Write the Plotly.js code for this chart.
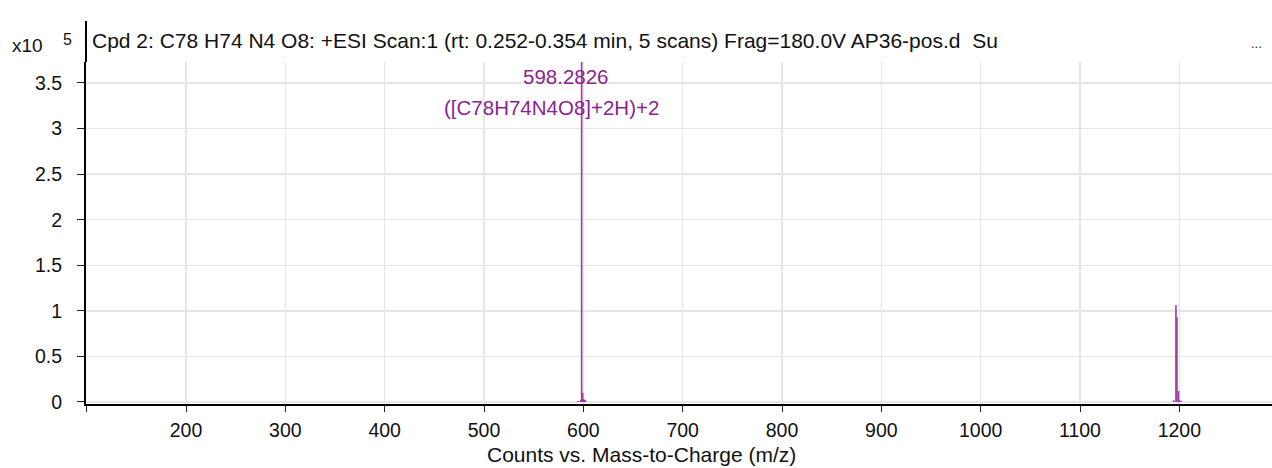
<!DOCTYPE html>
<html>
<head>
<meta charset="utf-8">
<script src="https://cdn.plot.ly/plotly-3.0.1.min.js"></script>
<style>html,body{margin:0;padding:0;background:#fff;}#chart{width:1272px;height:468px;}</style>
</head>
<body>
<div id="chart"></div>
<script>
// m/z values and intensities (x10^5 counts)
const mz = [594.8, 597.3, 598.2826, 599.3, 600.3, 601.3, 602.0, 1194.3, 1196.6, 1197.6, 1199.2, 1200.5, 1202.0];
const counts = [0.01, 0.02, 3.80, 0.10, 0.03, 0.025, 0.02, 0.02, 1.06, 0.93, 0.12, 0.02, 0.01];
const xTickVals = [100, 200, 300, 400, 500, 600, 700, 800, 900, 1000, 1100, 1200];
const xTickText = ["", "200", "300", "400", "500", "600", "700", "800", "900", "1000", "1100", "1200"];
const yTickVals = [0, 0.5, 1, 1.5, 2, 2.5, 3, 3.5];
const yTickText = ["0", "0.5", "1", "1.5", "2", "2.5", "3", "3.5"];
const peakLabelMz = 598.2826;
const peakLabel1 = "598.2826";
const peakLabel2 = "([C78H74N4O8]+2H)+2";
const headerText = "Cpd 2: C78 H74 N4 O8: +ESI Scan:1 (rt: 0.252-0.354 min, 5 scans) Frag=180.0V AP36-pos.d  Su";
const xTitle = "Counts vs. Mass-to-Charge (m/z)";

const font = "Liberation Sans, Arial, sans-serif";
const purple = "#8e1f8e";

// stick spectrum: build vertical segments from the data arrays
const segX = [], segY = [];
mz.forEach((m, i) => { segX.push(m, m, null); segY.push(0, counts[i], null); });

const trace = {
  type: "scatter",
  mode: "lines",
  x: segX,
  y: segY,
  line: {color: "#a536a5", width: 1.6},
  hoverinfo: "skip",
  cliponaxis: true
};

const layout = {
  width: 1272, height: 468,
  margin: {l: 86, r: 0, t: 62, b: 64, pad: 0},
  paper_bgcolor: "#ffffff",
  plot_bgcolor: "#ffffff",
  showlegend: false,
  font: {family: font, size: 19, color: "#111"},
  xaxis: {
    range: [99.3, 1293.3],
    tickmode: "array", tickvals: xTickVals, ticktext: xTickText,
    ticks: "outside", ticklen: 6, tickcolor: "#222", tickwidth: 1,
    ticklabelstandoff: 2,
    showgrid: true, gridcolor: "#e6e6e6", gridwidth: 1.5,
    showline: true, linecolor: "#000", linewidth: 2,
    zeroline: false,
    tickfont: {family: font, size: 19.5, color: "#111"}
  },
  yaxis: {
    range: [-0.022, 3.73],
    tickmode: "array", tickvals: yTickVals, ticktext: yTickText,
    ticks: "outside", ticklen: 7, tickcolor: "#222", tickwidth: 1,
    ticklabelstandoff: 11,
    showgrid: true, gridcolor: "#e6e6e6", gridwidth: 1.5,
    showline: true, linecolor: "#000", linewidth: 2,
    zeroline: false,
    tickfont: {family: font, size: 19.5, color: "#111"}
  },
  shapes: [
    {type: "line", xref: "paper", yref: "paper", x0: 0, x1: 0, y0: 1, y1: 1.12, line: {color: "#000", width: 2}}
  ],
  annotations: [
    {xref: "x", yref: "y", x: peakLabelMz, y: 3.5, text: peakLabel1, showarrow: false,
     xanchor: "center", yanchor: "middle", xshift: -16, yshift: 6,
     font: {family: font, size: 20.5, color: purple}},
    {xref: "x", yref: "y", x: peakLabelMz, y: 3.16, text: peakLabel2, showarrow: false,
     xanchor: "center", yanchor: "middle", xshift: -30, yshift: 6,
     font: {family: font, size: 20.5, color: purple}},
    {xref: "paper", yref: "paper", x: 0.0035, y: 1.064, text: headerText, showarrow: false,
     xanchor: "left", yanchor: "middle", font: {family: font, size: 21, color: "#111"}},
    {xref: "paper", yref: "paper", x: 0.987, y: 1.055, text: "...", showarrow: false,
     xanchor: "center", yanchor: "middle", font: {family: font, size: 13, color: "#222"}},
    {xref: "paper", yref: "paper", x: -0.049, y: 1.047, text: "x10", showarrow: false,
     xanchor: "center", yanchor: "middle", font: {family: font, size: 19, color: "#111"}},
    {xref: "paper", yref: "paper", x: -0.016, y: 1.066, text: "5", showarrow: false,
     xanchor: "center", yanchor: "middle", font: {family: font, size: 16, color: "#111"}},
    {xref: "paper", yref: "paper", x: 641 / 1272, y: -0.149, xanchor: "center", yanchor: "middle",
     text: xTitle, showarrow: false, font: {family: font, size: 21, color: "#111"}}
  ]
};
// axis title is placed in paper-relative coords of the plot area; convert the page centre
layout.annotations[6].x = (641 - 86) / 1186;

Plotly.newPlot("chart", [trace], layout, {displayModeBar: false, staticPlot: true});
</script>
</body>
</html>
